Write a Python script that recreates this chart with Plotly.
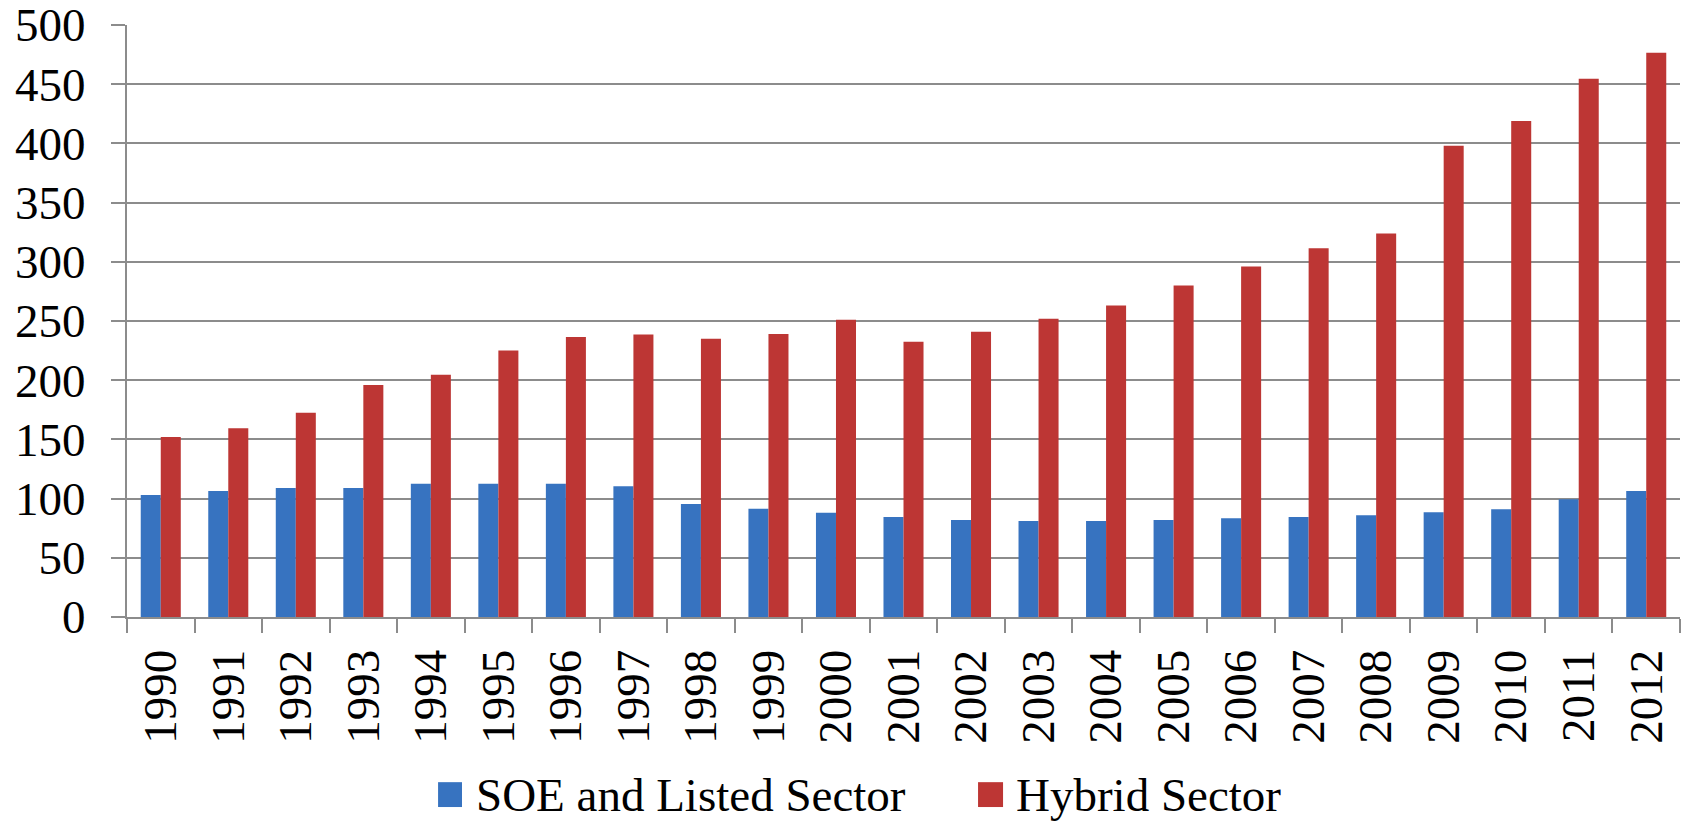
import plotly.graph_objects as go

years = [str(y) for y in range(1990, 2013)]
soe_listed = [103, 106.5, 109, 109, 112.5, 112.5, 112.5, 110.5, 95.5, 91.5, 88, 84.5, 82, 81, 81, 82, 83.5, 84.5, 86, 88.5, 91, 99.5, 106.5]
hybrid = [152, 159.5, 172.5, 196, 204.5, 225, 236.5, 238.5, 235, 239, 251, 232.5, 241, 252, 263, 280, 296, 311.5, 324, 398, 419, 454.5, 476.5]
y_ticks = list(range(0, 501, 50))
series_names = ["SOE and Listed Sector", "Hybrid Sector"]
series_colors = ["#3773c0", "#bd3634"]

FONT = "Liberation Serif, Times New Roman, serif"
FS = 47
GRID = "#8c8c8c"

fig = go.Figure()
for name, vals, col in zip(series_names, [soe_listed, hybrid], series_colors):
    fig.add_trace(go.Bar(x=years, y=vals, name=name, showlegend=False,
                         marker=dict(color=col, line=dict(width=0))))

# Manual legend (kept below the plot without pushing the margins)
legend_items = [
    dict(x0=0.2003, x1=0.2157, tx=0.2235),
    dict(x0=0.5480, x1=0.5641, tx=0.5712),
]
for item, name, col in zip(legend_items, series_names, series_colors):
    fig.add_shape(type="rect", xref="paper", yref="paper",
                  x0=item["x0"], x1=item["x1"], y0=-0.321, y1=-0.279,
                  fillcolor=col, line=dict(width=0))
    fig.add_annotation(text=name, xref="paper", yref="paper",
                       x=item["tx"], y=-0.300, xanchor="left", yanchor="middle",
                       showarrow=False, font=dict(family=FONT, size=FS, color="black"))

fig.update_layout(
    width=1687, height=821,
    margin=dict(l=127, r=7, t=25, b=204),
    paper_bgcolor="white", plot_bgcolor="white",
    barmode="group", bargap=0.407, bargroupgap=0,
    font=dict(family=FONT, size=FS, color="black"),
    showlegend=False,
)
fig.update_xaxes(
    type="category", tickangle=-90, tickson="boundaries",
    ticks="outside", ticklen=14, tickwidth=2, tickcolor=GRID,
    showline=True, linecolor=GRID, linewidth=2,
    showgrid=False, ticklabelstandoff=12, automargin=False,
    ticklabeloverflow="allow",
    tickfont=dict(family=FONT, size=FS, color="black"),
)
fig.update_yaxes(
    range=[0, 500], tickvals=y_ticks, ticktext=[str(v) for v in y_ticks],
    ticks="outside", ticklen=14, tickwidth=2, tickcolor=GRID,
    showline=True, linecolor=GRID, linewidth=2,
    showgrid=True, gridcolor=GRID, gridwidth=2, zeroline=False,
    ticklabelstandoff=16, automargin=False, ticklabeloverflow="allow",
    tickfont=dict(family=FONT, size=FS, color="black"),
)

fig.write_html("out.html", config={"displayModeBar": False},
               post_script="document.body.style.margin='0';document.body.style.overflow='hidden';")
